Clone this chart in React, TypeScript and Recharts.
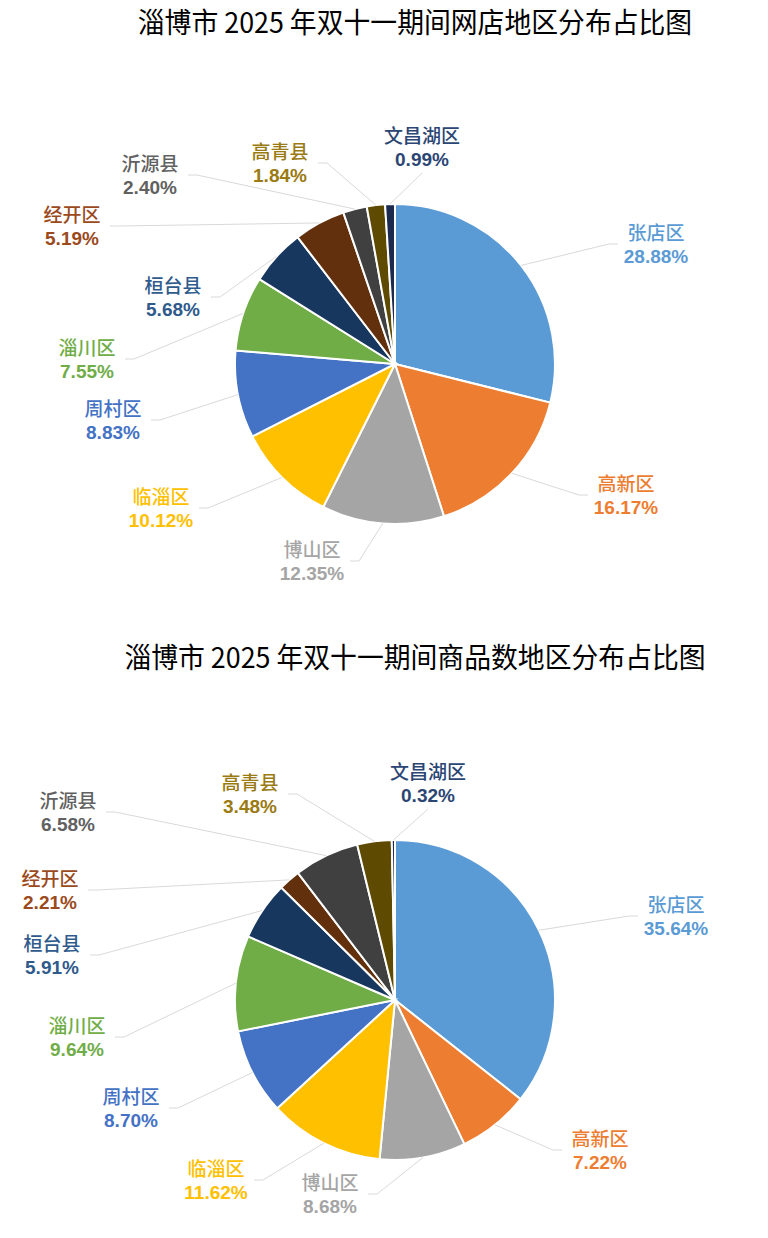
import React from 'react';
import { PieChart, Pie, Cell } from 'recharts';

// ---- data ----
const categories = ['张店区', '高新区', '博山区', '临淄区', '周村区', '淄川区', '桓台县', '经开区', '沂源县', '高青县', '文昌湖区'];
const shopShare = [28.88, 16.17, 12.35, 10.12, 8.83, 7.55, 5.68, 5.19, 2.40, 1.84, 0.99];
const goodsShare = [35.64, 7.22, 8.68, 11.62, 8.70, 9.64, 5.91, 2.21, 6.58, 3.48, 0.32];
const titleTop = '淄博市 2025 年双十一期间网店地区分布占比图';
const titleBottom = '淄博市 2025 年双十一期间商品数地区分布占比图';

// ---- styles ----
const sliceColors = ['#5B9BD5', '#ED7D31', '#A5A5A5', '#FFC000', '#4472C4', '#70AD47', '#17375E', '#62300D', '#404040', '#5E4A00', '#1B2A4E'];
const labelColors = ['#5B9BD5', '#ED7D31', '#A5A5A5', '#FFC000', '#4472C4', '#70AD47', '#2F5A8C', '#9A4A1C', '#616161', '#9A7A12', '#2C4674'];

// label block offsets relative to pie centre: [dx, dy, mode] (mode 1 = label above slice)
const topLabelLayout = [
  [261, -120, 0], [231, 131, 0], [-83, 197, 0], [-234, 144, 0], [-282, 56, 0], [-308, -5, 0],
  [-222, -67, 0], [-323, -138, 0], [-245, -189, 0], [-115, -201, 0], [27, -217, 1],
];
const bottomLabelLayout = [
  [281, -84, 0], [205, 150, 0], [-65, 194, 0], [-179, 180, 0], [-264, 108, 0], [-318, 37, 0],
  [-343, -45, 0], [-345, -110, 0], [-327, -188, 0], [-145, -206, 0], [33, -217, 1],
];

const topData = categories.map((name, i) => ({ name, value: shopShare[i] }));
const bottomData = categories.map((name, i) => ({ name, value: goodsShare[i] }));

const RAD = Math.PI / 180;

const makeLabel = (layout: number[][]) => (props: any) => {
  const { cx, cy, midAngle, outerRadius, index, name, value } = props;
  const px = cx + outerRadius * Math.cos(-midAngle * RAD);
  const py = cy + outerRadius * Math.sin(-midAngle * RAD);
  const [dx, dy, mode] = layout[index];
  const bx = cx + dx;
  const by = cy + dy;
  let pts: string;
  if (mode === 1) {
    pts = `${px},${py} ${bx},${by + 26}`;
  } else {
    const side = bx > cx ? -1 : 1;
    const lx = bx + side * 38;
    const ex = lx + side * 9;
    pts = `${px},${py} ${ex},${by} ${lx},${by}`;
  }
  const color = labelColors[index];
  return (
    <g key={`lbl-${index}`}>
      <polyline points={pts} fill="none" stroke="#D9D9D9" strokeWidth={1} />
      <text x={bx} y={by - 12.5} textAnchor="middle" dominantBaseline="central"
        fill={color} fontSize={19} fontWeight={500} fontFamily='"Noto Sans CJK SC", sans-serif'>
        {name}
      </text>
      <text x={bx} y={by + 12} textAnchor="middle" dominantBaseline="central"
        fill={color} fontSize={19} fontWeight={700} fontFamily='"Liberation Sans", Arial, sans-serif'>
        {Number(value).toFixed(2)}%
      </text>
    </g>
  );
};

const titleStyle = (top: number): React.CSSProperties => ({
  position: 'absolute',
  left: 62,
  width: 706,
  top,
  textAlign: 'center',
  fontSize: 28,
  lineHeight: '32px',
  whiteSpace: 'nowrap',
  fontFamily: '"Noto Sans CJK SC", sans-serif',
  fontWeight: 400,
  color: '#000',
  transform: 'scaleX(0.958)',
  transformOrigin: '50% 50%',
});

const PieBlock = ({ data, layout, cy }: { data: any[]; layout: number[][]; cy: number }) => (
  <PieChart width={768} height={619} margin={{ top: 0, right: 0, bottom: 0, left: 0 }}>
    <Pie
      data={data}
      dataKey="value"
      nameKey="name"
      cx={395}
      cy={cy}
      outerRadius={160}
      startAngle={90}
      endAngle={-270}
      stroke="#FFFFFF"
      strokeWidth={2}
      isAnimationActive={false}
      labelLine={false}
      label={makeLabel(layout)}
    >
      {data.map((_, i) => (
        <Cell key={i} fill={sliceColors[i]} />
      ))}
    </Pie>
  </PieChart>
);

export default function App() {
  return (
    <div style={{ position: 'absolute', left: 0, top: 0, width: 768, height: 1238, background: '#fff', overflow: 'hidden' }}>
      <div style={{ position: 'absolute', left: 0, top: 0 }}>
        <PieBlock data={topData} layout={topLabelLayout} cy={364} />
      </div>
      <div style={{ position: 'absolute', left: 0, top: 619 }}>
        <PieBlock data={bottomData} layout={bottomLabelLayout} cy={381} />
      </div>
      <div style={titleStyle(5)}>{titleTop}</div>
      <div style={titleStyle(640)}>{titleBottom}</div>
    </div>
  );
}
